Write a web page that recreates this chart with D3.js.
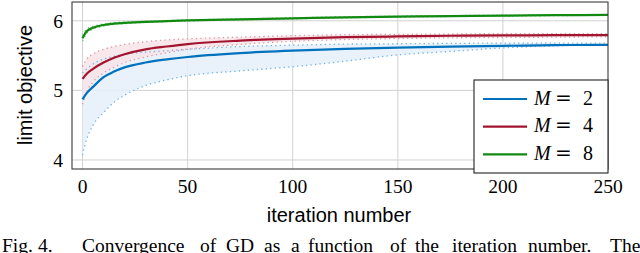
<!DOCTYPE html>
<html>
<head>
<meta charset="utf-8">
<script src="https://cdn.jsdelivr.net/npm/d3@7"></script>
<style>
  html, body { margin: 0; padding: 0; background: #fff; }
  svg { display: block; }
</style>
</head>
<body>
<svg width="640" height="253"></svg>
<script>
var iters = [0, 2, 5, 10, 15, 20, 30, 40, 50, 75, 100, 125, 150, 175, 200, 225, 250];

var m2Mean  = [4.87, 4.96, 5.05, 5.19, 5.27, 5.33, 5.40, 5.445, 5.48, 5.535, 5.57, 5.595, 5.615, 5.63, 5.64, 5.65, 5.655];
var m2Lower = [4.07, 4.30, 4.50, 4.68, 4.83, 4.93, 5.07, 5.15, 5.21, 5.28, 5.34, 5.42, 5.51, 5.56, 5.61, 5.64, 5.65];
var m2Upper = [5.25, 5.31, 5.38, 5.45, 5.49, 5.52, 5.55, 5.57, 5.59, 5.63, 5.65, 5.665, 5.67, 5.675, 5.68, 5.68, 5.68];

var m4Mean  = [5.165, 5.24, 5.31, 5.40, 5.47, 5.52, 5.59, 5.63, 5.665, 5.715, 5.745, 5.765, 5.775, 5.785, 5.79, 5.793, 5.795];
var m4Lower = [4.80, 4.98, 5.12, 5.25, 5.33, 5.40, 5.48, 5.54, 5.59, 5.66, 5.705, 5.73, 5.745, 5.755, 5.76, 5.765, 5.77];
var m4Upper = [5.34, 5.45, 5.52, 5.59, 5.63, 5.66, 5.70, 5.725, 5.74, 5.765, 5.785, 5.80, 5.805, 5.81, 5.815, 5.815, 5.815];

var m8Mean  = [5.75, 5.85, 5.90, 5.94, 5.96, 5.97, 5.985, 5.995, 6.005, 6.02, 6.035, 6.05, 6.06, 6.068, 6.074, 6.08, 6.085];
var m8Lower = [5.71, 5.82, 5.88, 5.925, 5.95, 5.96, 5.977, 5.988, 5.998, 6.013, 6.028, 6.043, 6.053, 6.062, 6.068, 6.074, 6.08];
var m8Upper = [5.79, 5.88, 5.92, 5.955, 5.972, 5.98, 5.993, 6.002, 6.012, 6.027, 6.042, 6.057, 6.067, 6.074, 6.08, 6.086, 6.09];

var xTicks = [0, 50, 100, 150, 200, 250];
var yTicks = [4, 5, 6];
var legendLabels = ['2', '4', '8'];

// caption words and where each one starts (justified text)
var captionWords = ['Fig.', '4.', 'Convergence', 'of', 'GD', 'as', 'a', 'function', 'of', 'the', 'iteration', 'number.', 'The'];
var captionX     = [2, 38, 82, 200, 226, 264, 291, 308, 390, 415, 452, 528, 610];

var series = [
    { mean: m2Mean, lower: m2Lower, upper: m2Upper, color: '#0072bd', fill: '#e5f0f9', dot: '#6fb3e6' },
    { mean: m4Mean, lower: m4Lower, upper: m4Upper, color: '#a2142f', fill: '#f7e4e7', dot: '#e095a3' },
    { mean: m8Mean, lower: m8Lower, upper: m8Upper, color: '#128a12', fill: '#e3f1e3', dot: '#6cbf6c' }
];

var svg = d3.select('svg');
var plotLeft = 72, plotRight = 608, plotTop = 2, plotBottom = 169;

var x = d3.scaleLinear().domain([-5, 250]).range([plotLeft, plotRight]);
var y = d3.scaleLinear().domain([3.87, 6.27]).range([plotBottom, plotTop]);

// grid
svg.append('g').selectAll('line')
    .data(xTicks.filter(function (t) { return t < 250; }))
    .enter().append('line')
    .attr('x1', function (d) { return x(d); })
    .attr('x2', function (d) { return x(d); })
    .attr('y1', plotTop).attr('y2', plotBottom)
    .style('stroke', '#d2d2d2').style('stroke-width', 1);

svg.append('g').selectAll('line')
    .data(yTicks)
    .enter().append('line')
    .attr('x1', plotLeft).attr('x2', plotRight)
    .attr('y1', function (d) { return y(d); })
    .attr('y2', function (d) { return y(d); })
    .style('stroke', '#d2d2d2').style('stroke-width', 1);

var area = d3.area()
    .x(function (d, i) { return x(iters[i]); })
    .y0(function (d) { return y(d[0]); })
    .y1(function (d) { return y(d[1]); })
    .curve(d3.curveMonotoneX);

var line = d3.line()
    .x(function (d, i) { return x(iters[i]); })
    .y(function (d) { return y(d); })
    .curve(d3.curveMonotoneX);

var plot = svg.append('g');

// bands first, then dotted bounds, then means
series.forEach(function (s) {
    plot.append('path')
        .datum(s.lower.map(function (v, i) { return [v, s.upper[i]]; }))
        .attr('d', area)
        .style('fill', s.fill)
        .style('opacity', 0.85);
});

series.forEach(function (s) {
    [s.lower, s.upper].forEach(function (b) {
        plot.append('path')
            .datum(b)
            .attr('d', line)
            .style('fill', 'none')
            .style('stroke', s.dot)
            .style('stroke-width', 1.3)
            .style('stroke-dasharray', '1.3,3.2');
    });
});

series.forEach(function (s) {
    plot.append('path')
        .datum(s.mean)
        .attr('d', line)
        .style('fill', 'none')
        .style('stroke', s.color)
        .style('stroke-width', 2.2);
});

// frame
svg.append('rect')
    .attr('x', plotLeft).attr('y', plotTop)
    .attr('width', plotRight - plotLeft).attr('height', plotBottom - plotTop)
    .style('fill', 'none').style('stroke', '#3a3a3a').style('stroke-width', 1.1);

// tick labels
svg.append('g').selectAll('text')
    .data(xTicks)
    .enter().append('text')
    .attr('x', function (d) { return x(d); })
    .attr('y', 192.5)
    .style('font-family', '"Liberation Serif", "DejaVu Serif", serif')
    .style('font-size', '19.5px')
    .style('text-anchor', 'middle')
    .text(function (d) { return d; });

svg.append('g').selectAll('text')
    .data(yTicks)
    .enter().append('text')
    .attr('x', 63)
    .attr('y', function (d) { return y(d) + 7; })
    .style('font-family', '"Liberation Serif", "DejaVu Serif", serif')
    .style('font-size', '19.5px')
    .style('text-anchor', 'end')
    .text(function (d) { return d; });

// axis titles
svg.append('text')
    .attr('x', 339).attr('y', 222)
    .style('font-family', '"Liberation Sans", Arial, sans-serif')
    .style('font-size', '20px')
    .style('text-anchor', 'middle')
    .text('iteration number');

svg.append('text')
    .attr('transform', 'translate(32,85) rotate(-90)')
    .style('font-family', '"Liberation Sans", Arial, sans-serif')
    .style('font-size', '20px')
    .style('text-anchor', 'middle')
    .text('limit objective');

// legend
var lg = svg.append('g');
lg.append('rect')
    .attr('x', 474).attr('y', 80)
    .attr('width', 134).attr('height', 93)
    .style('fill', '#fff').style('stroke', '#222').style('stroke-width', 1.1);

series.forEach(function (s, i) {
    var ly = 99 + i * 27.7;
    lg.append('line')
        .attr('x1', 483).attr('x2', 527)
        .attr('y1', ly).attr('y2', ly)
        .style('stroke', s.color).style('stroke-width', 2.2);
    var t = lg.append('text')
        .attr('y', ly + 5.5)
        .style('font-family', '"Liberation Serif", "DejaVu Serif", serif')
        .style('font-size', '20px');
    t.append('tspan').attr('x', 534).style('font-style', 'italic').text('M');
    t.append('tspan').attr('x', 555).style('font-family', '"DejaVu Serif", serif').text('=');
    t.append('tspan').attr('x', 583).text(legendLabels[i]);
});

// caption (cut off by the bottom edge, as in the reference)
var cap = svg.append('text')
    .attr('y', 251.5)
    .style('font-family', '"Liberation Serif", "DejaVu Serif", serif')
    .style('font-size', '19.5px');
captionWords.forEach(function (w, i) {
    cap.append('tspan').attr('x', captionX[i]).text(w);
});
</script>
</body>
</html>
